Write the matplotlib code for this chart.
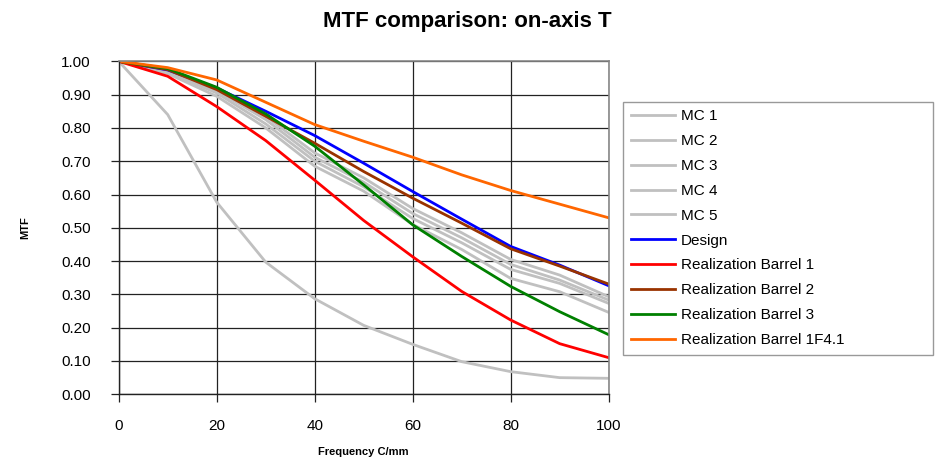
import matplotlib
matplotlib.use("Agg")
import matplotlib.pyplot as plt

plt.rcParams['font.family'] = ['Liberation Sans', 'DejaVu Sans']

freq = [0, 10, 20, 30, 40, 50, 60, 70, 80, 90, 100]
mc1 = [1.00, 0.840, 0.577, 0.397, 0.287, 0.207, 0.150, 0.098, 0.068, 0.050, 0.048]
mc2 = [1.00, 0.972, 0.918, 0.835, 0.725, 0.650, 0.558, 0.485, 0.405, 0.358, 0.293]
mc3 = [1.00, 0.970, 0.912, 0.825, 0.712, 0.637, 0.543, 0.470, 0.390, 0.343, 0.283]
mc4 = [1.00, 0.967, 0.905, 0.812, 0.700, 0.623, 0.528, 0.455, 0.375, 0.333, 0.273]
mc5 = [1.00, 0.963, 0.895, 0.800, 0.685, 0.610, 0.510, 0.435, 0.348, 0.308, 0.246]
design = [1.00, 0.974, 0.920, 0.850, 0.777, 0.694, 0.609, 0.526, 0.444, 0.388, 0.326]
barrel1 = [1.00, 0.955, 0.864, 0.762, 0.643, 0.522, 0.413, 0.309, 0.223, 0.152, 0.110]
barrel2 = [1.00, 0.975, 0.915, 0.835, 0.754, 0.669, 0.589, 0.514, 0.437, 0.385, 0.331]
barrel3 = [1.00, 0.978, 0.922, 0.842, 0.745, 0.629, 0.509, 0.414, 0.324, 0.248, 0.179]
barrel1_f41 = [1.00, 0.981, 0.944, 0.877, 0.810, 0.760, 0.712, 0.659, 0.612, 0.571, 0.530]

series = [
    ("MC 1", mc1, "#C0C0C0"),
    ("MC 2", mc2, "#C0C0C0"),
    ("MC 3", mc3, "#C0C0C0"),
    ("MC 4", mc4, "#C0C0C0"),
    ("MC 5", mc5, "#C0C0C0"),
    ("Design", design, "#0000FF"),
    ("Realization Barrel 1", barrel1, "#FF0000"),
    ("Realization Barrel 2", barrel2, "#993300"),
    ("Realization Barrel 3", barrel3, "#008000"),
    ("Realization Barrel 1F4.1", barrel1_f41, "#FF6600"),
]

fig = plt.figure(figsize=(9.35, 4.59), dpi=100)
ax = fig.add_axes([118.7 / 935, 1 - 394.3 / 459, 490 / 935, 333 / 459])

for name, vals, col in series:
    ax.plot(freq, vals, color=col, lw=2.0, label=name)

ax.set_xlim(0, 100)
ax.set_ylim(0, 1.0)
ax.set_xticks([0, 20, 40, 60, 80, 100])
ax.set_yticks([i / 10 for i in range(11)])
ax.set_yticklabels([f"{i/10:.2f}" for i in range(11)])
ax.grid(True, color="#222222", lw=0.9)
ax.set_axisbelow(True)
ax.tick_params(axis='both', direction='out', length=6, width=0.9, color="#222222",
               labelsize=11)
ax.tick_params(axis='y', pad=14)
ax.tick_params(axis='x', pad=12)
for s in ['left', 'bottom']:
    ax.spines[s].set_color("#222222")
    ax.spines[s].set_linewidth(1.0)
for s in ['top', 'right']:
    ax.spines[s].set_color("#888888")
    ax.spines[s].set_linewidth(1.2)

ax.set_xlabel("Frequency C/mm", fontsize=8, fontweight='bold', labelpad=10)
ax.set_ylabel("MTF", fontsize=8, fontweight='bold', labelpad=22)

fig.text(467 / 935, 1 - 22 / 459, "MTF comparison: on-axis T", ha='center', va='center',
         fontsize=16, fontweight='bold')

leg = ax.legend(loc='upper left', bbox_to_anchor=(623 / 935, 1 - 349.3 / 459,
                                                  310 / 935, 247.6 / 459),
                bbox_transform=fig.transFigure, mode='expand',
                fontsize=11, frameon=True, fancybox=False, handlelength=2.9,
                handletextpad=0.4, labelspacing=0.71, borderpad=0.5,
                borderaxespad=0)
leg.get_frame().set_edgecolor("#808080")
leg.get_frame().set_linewidth(1.0)

fig.savefig("out.png", dpi=100)
